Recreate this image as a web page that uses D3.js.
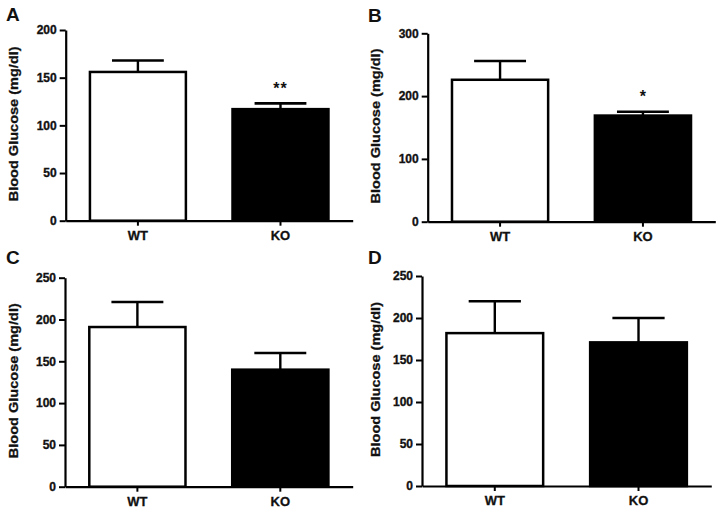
<!DOCTYPE html>
<html>
<head>
<meta charset="utf-8">
<script src="https://cdn.jsdelivr.net/npm/d3@7"></script>
<style>
  html, body { margin: 0; padding: 0; background: #fff; }
  svg { display: block; }
  text { font-family: "Liberation Sans", Arial, sans-serif; font-weight: bold; fill: #111; }
</style>
</head>
<body>
<svg id="chart" width="725" height="513"></svg>
<script>
// ---- data ----
const categories = ["WT", "KO"];
const panelLabels = ["A", "B", "C", "D"];
const meansA = [156, 117];
const semA   = [12, 6];
const meansB = [226, 169];
const semB   = [30, 6];
const meansC = [191, 140];
const semC   = [30, 20];
const meansD = [182, 171];
const semD   = [38, 29];
const signifA = ["", "**"];
const signifB = ["", "*"];
const signifC = ["", ""];
const signifD = ["", ""];
const ticksA = [0, 50, 100, 150, 200];
const ticksB = [0, 100, 200, 300];
const ticksC = [0, 50, 100, 150, 200, 250];
const ticksD = [0, 50, 100, 150, 200, 250];
const yTitle = "Blood Glucose (mg/dl)";

// ---- layout (pixel geometry per panel) ----
const panels = [
  { label: panelLabels[0], means: meansA, sem: semA, sig: signifA, ticks: ticksA,
    ox: 0,   labelY: 20.7, axisX: 65.7,  xEnd: 352.7, yBase: 220.7, yTop: 30 },
  { label: panelLabels[1], means: meansB, sem: semB, sig: signifB, ticks: ticksB,
    ox: 362, labelY: 21.7, axisX: 427.7, xEnd: 715.3, yBase: 221.7, yTop: 33.3 },
  { label: panelLabels[2], means: meansC, sem: semC, sig: signifC, ticks: ticksC,
    ox: 0,   labelY: 264.3, axisX: 65,   xEnd: 352.7, yBase: 486.7, yTop: 277.7 },
  { label: panelLabels[3], means: meansD, sem: semD, sig: signifD, ticks: ticksD,
    ox: 362, labelY: 264.3, axisX: 422,  xEnd: 711.3, yBase: 486,   yTop: 276 }
];

const svg = d3.select("#chart");
const fills = ["#ffffff", "#000000"];

panels.forEach(p => {
  const g = svg.append("g");
  const yMax = p.ticks[p.ticks.length - 1];
  const y = d3.scaleLinear().domain([0, yMax]).range([p.yBase, p.yTop]);
  const x = d3.scaleBand().domain(categories).range([p.axisX, p.xEnd])
    .paddingInner(0.327).paddingOuter(0.17);
  const bw = x.bandwidth();
  const capW = bw * 0.54;

  const data = categories.map((c, i) => ({ c, m: p.means[i], s: p.sem[i], sig: p.sig[i], fill: fills[i] }));

  // error bars (drawn first, bar top covers stem)
  g.selectAll(".stem").data(data).join("line")
    .attr("x1", d => x(d.c) + bw / 2).attr("x2", d => x(d.c) + bw / 2)
    .attr("y1", d => y(d.m)).attr("y2", d => y(d.m + d.s))
    .attr("stroke", "#000").attr("stroke-width", 2.4);
  g.selectAll(".cap").data(data).join("line")
    .attr("x1", d => x(d.c) + bw / 2 - capW / 2).attr("x2", d => x(d.c) + bw / 2 + capW / 2)
    .attr("y1", d => y(d.m + d.s)).attr("y2", d => y(d.m + d.s))
    .attr("stroke", "#000").attr("stroke-width", 2.6);

  // bars
  g.selectAll(".bar").data(data).join("rect")
    .attr("x", d => x(d.c)).attr("width", bw)
    .attr("y", d => y(d.m)).attr("height", d => y(0) - y(d.m))
    .attr("fill", d => d.fill).attr("stroke", "#000").attr("stroke-width", 2.5);

  // significance
  g.selectAll(".sig").data(data.filter(d => d.sig)).join("text")
    .attr("x", d => x(d.c) + bw / 2)
    .attr("y", d => y(d.m + d.s) - 9.5)
    .attr("text-anchor", "middle")
    .attr("font-size", 16)
    .attr("font-weight", "bold")
    .attr("letter-spacing", d => d.sig.length > 1 ? "1px" : "0px")
    .text(d => d.sig);

  // y axis
  const ya = g.append("g").attr("transform", `translate(${p.axisX},0)`)
    .call(d3.axisLeft(y).tickValues(p.ticks).tickSize(6).tickSizeOuter(0).tickPadding(3));
  ya.attr("font-family", null).attr("font-size", null);
  ya.select(".domain").attr("stroke", "#000").attr("stroke-width", 2.2);
  ya.selectAll(".tick line").attr("stroke", "#000").attr("stroke-width", 2);
  ya.selectAll(".tick text").attr("font-size", 12).attr("font-weight", "bold")
    .style("fill", "#111").attr("stroke", "#111").attr("stroke-width", 0.35);

  // x axis
  const xa = g.append("g").attr("transform", `translate(0,${p.yBase})`)
    .call(d3.axisBottom(x).tickSize(5).tickSizeOuter(0).tickPadding(5));
  xa.attr("font-family", null).attr("font-size", null);
  xa.select(".domain").attr("stroke", "#000").attr("stroke-width", 2.2);
  xa.selectAll(".tick line").attr("stroke", "#000").attr("stroke-width", 2);
  xa.selectAll(".tick text").attr("font-size", 13).attr("font-weight", "bold")
    .style("fill", "#111").attr("stroke", "#111").attr("stroke-width", 0.3);

  // y title
  const cy = (p.yBase + p.yTop) / 2 - 1.5;
  g.append("text")
    .attr("transform", `translate(${p.ox + 18.3},${cy}) rotate(-90)`)
    .attr("text-anchor", "middle")
    .attr("font-size", 12.5)
    .attr("font-weight", "bold")
    .attr("stroke", "#111").attr("stroke-width", 0.3)
    .attr("textLength", 155)
    .attr("lengthAdjust", "spacingAndGlyphs")
    .text(yTitle);

  // panel label
  g.append("text")
    .attr("x", p.ox + 6).attr("y", p.labelY)
    .attr("font-size", 19)
    .attr("font-weight", "bold")
    .text(p.label);
});
</script>
</body>
</html>
